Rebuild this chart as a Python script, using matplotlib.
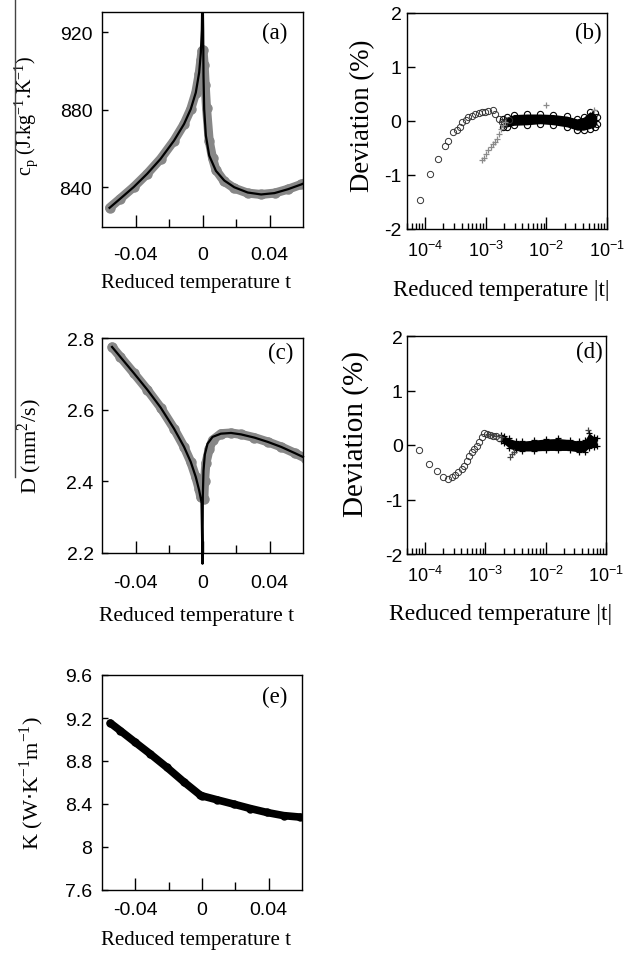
import matplotlib
matplotlib.use("Agg")
import matplotlib.pyplot as plt
from matplotlib.lines import Line2D
from matplotlib.ticker import FixedLocator, FixedFormatter, LogLocator, NullFormatter

plt.rcParams['font.family'] = 'Liberation Sans'
plt.rcParams['axes.unicode_minus'] = False
plt.rcParams['axes.linewidth'] = 1.0

SERIF = 'Liberation Serif'
GRAY = '#878787'

# =============================================================================
# DATA
# =============================================================================
# (a) heat capacity: measured points (gray) and fit (black)
t_a_data = [-0.0555, -0.049, -0.041, -0.033, -0.025, -0.017, -0.011, -0.007, -0.004,
            -0.002, -0.001, -0.0003, 0.0003, 0.001, 0.0016, 0.0024, 0.004, 0.006,
            0.008, 0.013, 0.019, 0.027, 0.035, 0.043, 0.051, 0.059, 0.062]
cp_a_data = [829.4, 834.2, 840.2, 847.0, 854.7, 864.1, 872.7, 880.4, 888.9,
             898.5, 905.5, 910.5, 911.0, 903.0, 893.0, 881.0, 864.0, 855.0,
             849.0, 843.0, 839.5, 837.0, 836.3, 837.0, 839.0, 841.5, 842.5]
t_a_fit = [-0.0555, -0.049, -0.041, -0.033, -0.025, -0.017, -0.011, -0.007, -0.004,
           -0.002, -0.001, -0.0004, 0.0, 0.0004, 0.0006, 0.001, 0.002, 0.004, 0.008,
           0.013, 0.019, 0.027, 0.035, 0.043, 0.051, 0.059, 0.062]
cp_a_fit = [829.4, 834.2, 840.2, 847.0, 854.7, 864.1, 872.7, 880.4, 888.9,
            899.2, 909.4, 921.4, 945.0, 921.0, 897.5, 880.4, 866.7, 856.4, 848.5,
            843.5, 840.0, 837.3, 836.3, 837.0, 839.0, 841.5, 842.6]

# (b) deviation of cp fit: circles, crosses, dense band (lo / hi edges)
t_b_circ = [8.3e-5, 1.2e-4, 1.62e-4, 2.09e-4, 2.4e-4, 2.88e-4, 3.31e-4, 3.8e-4,
            3.98e-4, 4.68e-4, 5.13e-4, 5.89e-4, 6.61e-4, 7.59e-4, 8.51e-4, 9.77e-4,
            1.1e-3, 1.29e-3, 1.41e-3, 1.62e-3, 1.82e-3, 2.0e-3, 2.4e-3]
dev_b_circ = [-1.46, -0.98, -0.70, -0.46, -0.37, -0.20, -0.17, -0.11,
              -0.02, 0.01, 0.07, 0.10, 0.13, 0.15, 0.16, 0.17,
              0.19, 0.21, 0.13, 0.04, -0.02, -0.06, 0.02]
t_b_plus = [8.5e-4, 9.3e-4, 1.02e-3, 1.1e-3, 1.2e-3, 1.32e-3, 1.41e-3, 1.55e-3,
            1.66e-3, 1.78e-3, 1.9e-3, 2.04e-3, 1.0e-2, 6.0e-2]
dev_b_plus = [-0.73, -0.68, -0.62, -0.54, -0.48, -0.42, -0.38, -0.33,
              -0.24, -0.15, -0.08, -0.02, 0.30, 0.20]
t_b_band = [1.9e-3, 2.24e-3, 2.9e-3, 4.8e-3, 7.9e-3, 1.3e-2, 2.2e-2, 3.2e-2,
            4.1e-2, 5.2e-2, 6.3e-2, 6.8e-2]
lo_b_band = [-0.11, -0.11, -0.08, -0.07, -0.05, -0.07, -0.11, -0.17,
             -0.17, -0.14, -0.11, -0.05]
hi_b_band = [0.04, 0.07, 0.12, 0.13, 0.13, 0.12, 0.09, 0.04,
             0.07, 0.17, 0.14, 0.08]

# (c) thermal diffusivity: measured points (gray) and fit (black)
t_c_data = [-0.054, -0.049, -0.041, -0.033, -0.025, -0.017, -0.011, -0.007, -0.004,
            -0.002, -0.001, 0.0008, 0.0012, 0.002, 0.004, 0.006, 0.011, 0.017,
            0.023, 0.031, 0.039, 0.047, 0.055, 0.062]
D_c_data = [2.775, 2.747, 2.702, 2.656, 2.606, 2.547, 2.496, 2.454, 2.412,
            2.378, 2.355, 2.350, 2.400, 2.450, 2.490, 2.515, 2.533, 2.535,
            2.531, 2.522, 2.510, 2.496, 2.479, 2.463]
t_c_fit = [-0.054, -0.049, -0.041, -0.033, -0.025, -0.017, -0.011, -0.007, -0.004,
           -0.002, -0.0006, 0.0, 0.0002, 0.0006, 0.0014, 0.003, 0.006, 0.011,
           0.017, 0.023, 0.031, 0.039, 0.047, 0.055, 0.060]
D_c_fit = [2.775, 2.747, 2.702, 2.656, 2.606, 2.547, 2.496, 2.454, 2.412,
           2.375, 2.342, 2.170, 2.360, 2.430, 2.475, 2.505, 2.524, 2.533,
           2.535, 2.531, 2.522, 2.510, 2.496, 2.479, 2.468]

# (d) deviation of D fit
t_d_circ = [7.9e-5, 1.17e-4, 1.58e-4, 2.0e-4, 2.4e-4, 2.75e-4, 3.16e-4, 3.55e-4,
            4.07e-4, 4.47e-4, 4.9e-4, 5.37e-4, 5.89e-4, 6.46e-4, 7.24e-4, 7.94e-4,
            8.7e-4, 9.55e-4, 1.07e-3, 1.2e-3, 1.35e-3, 1.51e-3, 1.7e-3]
dev_d_circ = [-0.10, -0.34, -0.47, -0.58, -0.63, -0.58, -0.55, -0.50,
              -0.44, -0.38, -0.29, -0.21, -0.13, -0.07, -0.01, 0.05,
              0.14, 0.22, 0.21, 0.19, 0.17, 0.16, 0.13]
t_d_plus = [1.1e-3, 1.3e-3, 1.5e-3, 1.8e-3, 2.6e-3, 2.8e-3, 3.0e-3, 5.0e-2]
dev_d_plus = [0.20, 0.18, 0.17, 0.15, -0.22, -0.17, -0.12, 0.27]
t_d_band = [1.8e-3, 2.0e-3, 2.5e-3, 3.16e-3, 3.98e-3, 6.3e-3, 1.0e-2, 1.58e-2,
            2.5e-2, 3.55e-2, 4.47e-2, 5.25e-2, 6.3e-2, 7.1e-2]
lo_d_band = [0.07, 0.03, -0.06, -0.10, -0.11, -0.11, -0.10, -0.10,
             -0.10, -0.13, -0.12, -0.05, -0.04, -0.01]
hi_d_band = [0.19, 0.17, 0.12, 0.08, 0.07, 0.09, 0.11, 0.12,
             0.10, 0.07, 0.09, 0.22, 0.15, 0.12]

# (e) thermal conductivity
t_e = [-0.055, -0.049, -0.040, -0.031, -0.021, -0.011, -0.001, 0.0, 0.009,
       0.019, 0.029, 0.039, 0.049, 0.059]
K_e = [9.153, 9.082, 8.973, 8.865, 8.740, 8.607, 8.482, 8.476, 8.439,
       8.399, 8.358, 8.321, 8.292, 8.278]

lin_ticks = [-0.04, 0, 0.04]
lin_ticklabels = ['-0.04', '0', '0.04']
lin_minor = [-0.02, 0.02]
dev_ticks = [-2, -1, 0, 1, 2]

# =============================================================================
# FIGURE
# =============================================================================
W, H = 634, 954
fig = plt.figure(figsize=(W / 100, H / 100), dpi=100)


def px_axes(left, top, right, bottom):
    return fig.add_axes([left / W, 1 - bottom / H, (right - left) / W, (bottom - top) / H])


def style_linear(ax, ylim, yticks, xpad, ypad):
    ax.set_xlim(-0.06, 0.06)
    ax.set_ylim(*ylim)
    ax.xaxis.set_major_locator(FixedLocator(lin_ticks))
    ax.xaxis.set_major_formatter(FixedFormatter(lin_ticklabels))
    ax.xaxis.set_minor_locator(FixedLocator(lin_minor))
    ax.yaxis.set_major_locator(FixedLocator(yticks))
    ax.tick_params(which='both', direction='in', top=False, right=False, width=1)
    ax.tick_params(axis='x', which='major', length=8.5, pad=xpad, labelsize=14)
    ax.tick_params(axis='x', which='minor', length=5.5)
    ax.tick_params(axis='y', which='major', length=4.5, pad=ypad, labelsize=14)


def style_log(ax, xpad, ypad):
    ax.set_xscale('log')
    ax.set_xlim(5e-5, 1e-1)
    ax.set_ylim(-2, 2)
    ax.xaxis.set_major_locator(LogLocator(base=10, numticks=10))
    ax.xaxis.set_minor_locator(LogLocator(base=10, subs=range(2, 10), numticks=20))
    ax.xaxis.set_minor_formatter(NullFormatter())
    ax.yaxis.set_major_locator(FixedLocator(dev_ticks))
    ax.tick_params(which='both', direction='in', top=False, right=False, width=1)
    ax.tick_params(axis='x', which='major', length=8.5, pad=xpad, labelsize=13)
    ax.tick_params(axis='x', which='minor', length=4.5)
    ax.tick_params(axis='y', which='major', length=6, pad=ypad, labelsize=14)


def labels(ax, xlabel, ylabel, xy_x, xy_y, size_x, size_y, tag, tag_xy):
    ax.set_xlabel(xlabel, family=SERIF, fontsize=size_x, va='top')
    ax.xaxis.set_label_coords(*xy_x)
    ax.set_ylabel(ylabel, family=SERIF, fontsize=size_y)
    ax.yaxis.set_label_coords(*xy_y)
    ax.text(tag_xy[0], tag_xy[1], tag, transform=ax.transAxes, family=SERIF,
            fontsize=16.5, ha='right', va='center')


ax_a = px_axes(102, 13, 303, 228)
ax_b = px_axes(407, 14, 607, 230)
ax_c = px_axes(102, 339, 303, 554)
ax_d = px_axes(407, 337, 606, 555)
ax_e = px_axes(102, 676, 302, 891)

# ---- (a)
ax_a.plot(t_a_data, cp_a_data, color=GRAY, lw=6.5, marker='o', ms=6.5,
          solid_capstyle='round', zorder=2)
ax_a.plot(t_a_fit, cp_a_fit, color='black', lw=1.6, zorder=3)
style_linear(ax_a, (819.5, 930.5), [840, 880, 920], 14, 7)
labels(ax_a, 'Reduced temperature t',
       r'c$_\mathregular{p}$ (J.kg$^\mathregular{-1}$.K$^\mathregular{-1}$)',
       (0.47, -0.215), (-0.31, 0.52), 15, 14.5, '(a)', (0.92, 0.907))

# ---- (b)
ax_b.fill_between(t_b_band, lo_b_band, hi_b_band, color='black', lw=0, zorder=2)
ax_b.plot(t_b_band, hi_b_band, 'o', mfc='none', mec='black', ms=4.5, mew=0.8, zorder=3)
ax_b.plot(t_b_band, lo_b_band, 'o', mfc='none', mec='black', ms=4.5, mew=0.8, zorder=3)
ax_b.plot(t_b_circ, dev_b_circ, 'o', mfc='none', mec='#333333', ms=4.5, mew=0.7, zorder=3)
ax_b.plot(t_b_plus, dev_b_plus, '+', color='#8a8a8a', ms=5, mew=0.9, zorder=3)
style_log(ax_b, 8, 4)
labels(ax_b, 'Reduced temperature |t|', 'Deviation (%)',
       (0.47, -0.23), (-0.16, 0.528), 16.5, 19.3, '(b)', (0.975, 0.912))

# ---- (c)
ax_c.plot(t_c_data, D_c_data, color=GRAY, lw=6.5, marker='o', ms=6.5,
          solid_capstyle='round', zorder=2)
ax_c.plot(t_c_fit, D_c_fit, color='black', lw=1.6, zorder=3, clip_on=False)
style_linear(ax_c, (2.2, 2.8), [2.2, 2.4, 2.6, 2.8], 15, 6)
labels(ax_c, 'Reduced temperature t', r'D (mm$^\mathregular{2}$/s)',
       (0.47, -0.245), (-0.29, 0.5), 15.5, 16, '(c)', (0.95, 0.935))

# ---- (d)
ax_d.fill_between(t_d_band, lo_d_band, hi_d_band, color='black', lw=0, zorder=2)
ax_d.plot(t_d_band, hi_d_band, '+', color='black', ms=5, mew=0.9, zorder=3)
ax_d.plot(t_d_band, lo_d_band, '+', color='black', ms=5, mew=0.9, zorder=3)
ax_d.plot(t_d_circ, dev_d_circ, 'o', mfc='none', mec='#333333', ms=4.5, mew=0.7, zorder=3)
ax_d.plot(t_d_plus, dev_d_plus, '+', color='#444444', ms=5, mew=0.9, zorder=3)
style_log(ax_d, 8, 3)
labels(ax_d, 'Reduced temperature |t|', 'Deviation (%)',
       (0.47, -0.225), (-0.19, 0.557), 17, 21, '(d)', (0.985, 0.93))

# ---- (e)
ax_e.plot(t_e, K_e, color='black', lw=5.5, marker='o', ms=5,
          solid_capstyle='round', zorder=2)
style_linear(ax_e, (7.6, 9.6), [7.6, 8.0, 8.4, 8.8, 9.2, 9.6], 8, 7)
ax_e.yaxis.set_major_formatter(FixedFormatter(['7.6', '8', '8.4', '8.8', '9.2', '9.6']))
labels(ax_e, 'Reduced temperature t', r'K (W$\cdot$K$^\mathregular{-1}$m$^\mathregular{-1}$)',
       (0.47, -0.186), (-0.28, 0.5), 15, 16, '(e)', (0.925, 0.90))

# scan edge line on the far left
fig.add_artist(Line2D([15 / W, 15 / W], [1.0, 1 - 478 / H], color='#444444', lw=1.0,
                      transform=fig.transFigure))

fig.savefig('out.png', dpi=100)
